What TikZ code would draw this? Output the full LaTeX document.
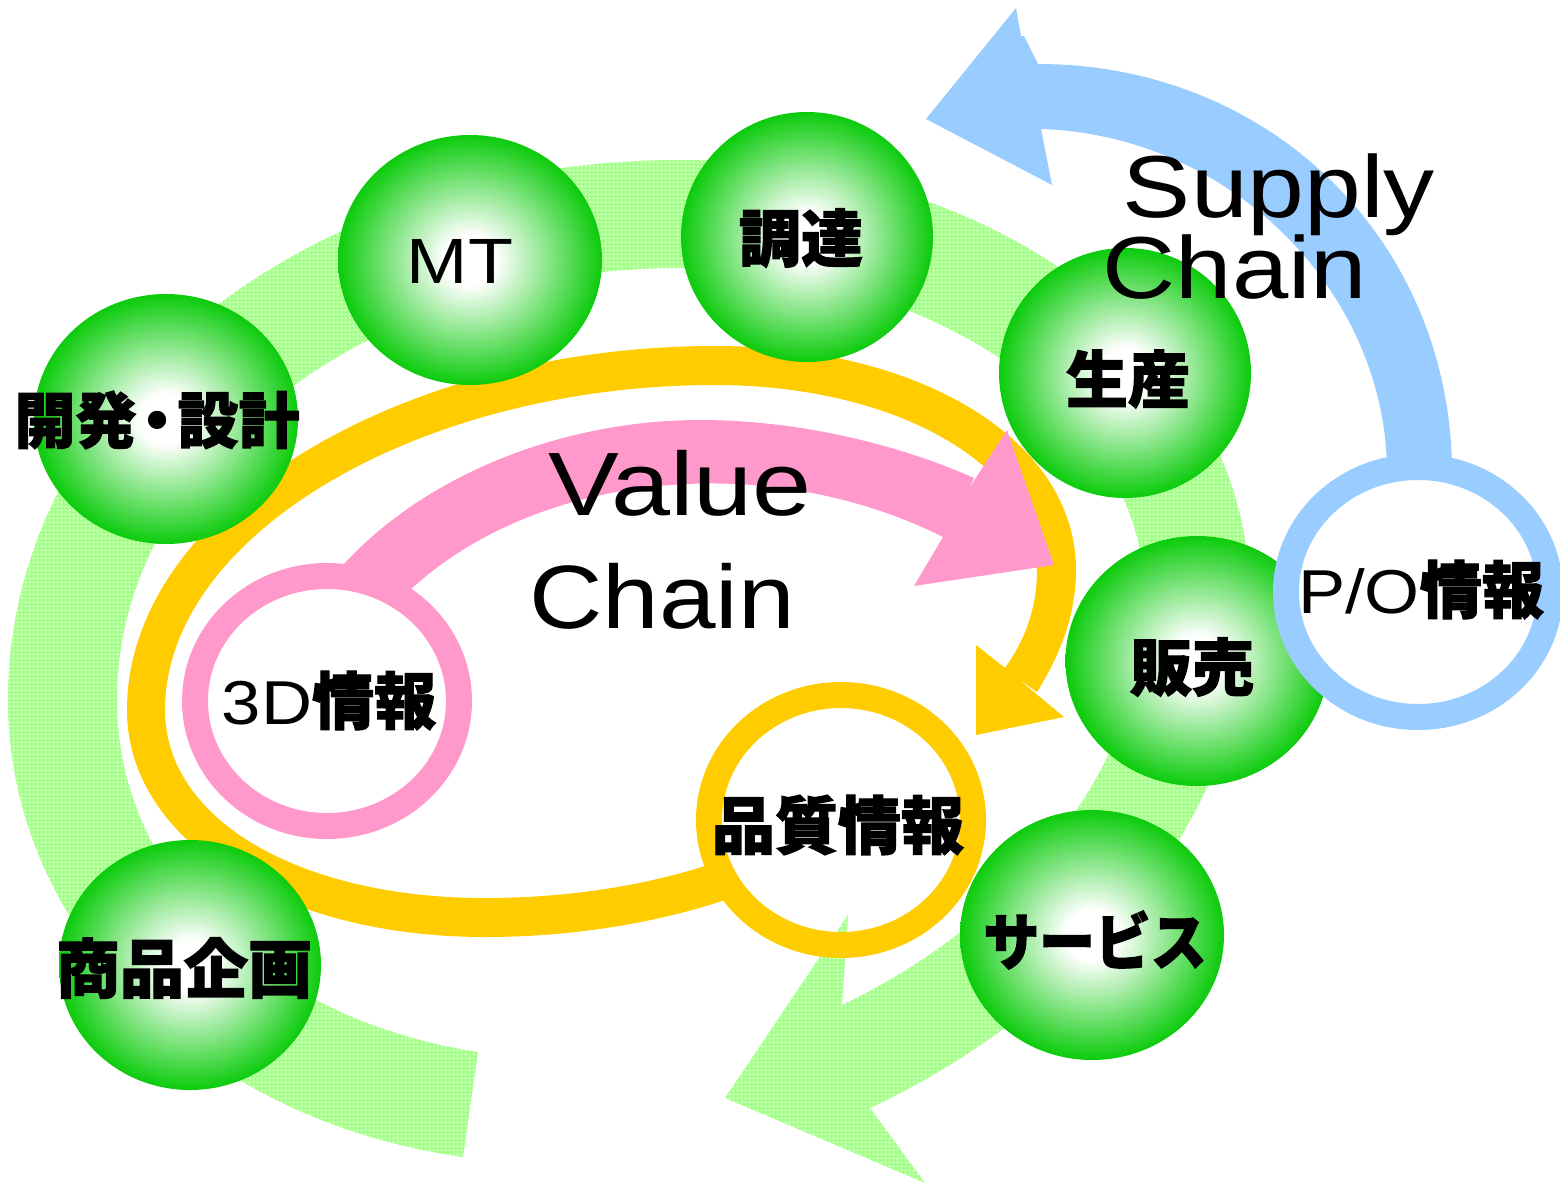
\documentclass[tikz,border=0pt]{standalone}
\usepackage{fontspec}
\setmainfont{Liberation Sans}
\newfontfamily\cjk[BoldFeatures={FakeBold=1.9}]{Noto Sans CJK JP}
\usetikzlibrary{shapes.geometric,patterns}
\definecolor{Gedge}{HTML}{0CCB0C}
\definecolor{bandgreen}{HTML}{A6FF8C}
\definecolor{pinkc}{HTML}{FF99CC}
\definecolor{bluec}{HTML}{99CCFF}
\definecolor{yellowc}{HTML}{FFCC00}
\pgfdeclareradialshading{sph}{\pgfpoint{0bp}{0bp}}{color(0bp)=(white);color(5bp)=(white);color(25bp)=(Gedge);color(50bp)=(Gedge)}
\pgfdeclarepatternformonly{bandchk}{\pgfqpoint{0pt}{0pt}}{\pgfqpoint{4pt}{4pt}}{\pgfqpoint{4pt}{4pt}}{%
  \pgfpathrectangle{\pgfqpoint{1pt}{1pt}}{\pgfqpoint{2pt}{2pt}}\pgfusepath{fill}}
\newcommand{\jp}[1]{{\cjk\bfseries #1}}
\tikzset{
  sphere/.style={ellipse,shading=sph,inner sep=0pt,minimum width=#1,minimum height=250},
  ringshape/.style={ellipse,inner sep=0pt,outer sep=0pt,line width=26,minimum width=264,minimum height=250},
  jplabel/.style={inner sep=0pt,font=\fontsize{#1}{#1}\selectfont},
  latinbig/.style={inner sep=0pt,anchor=base,font=\fontsize{#1}{#1}\selectfont},
  bandfill/.style={fill=bandgreen,postaction={pattern=bandchk,pattern color=white}},
}
\begin{document}
\begin{tikzpicture}[x=1pt,y=-1pt,every node/.append style={text=black}]
\useasboundingbox (0,0) rectangle (1560,1183);
% green band
\path[bandfill] (463,1157) .. controls (200,1120) and (8,930) .. (8,700)
  .. controls (8,400) and (300,160) .. (680,160)
  .. controls (1000,160) and (1250,350) .. (1250,600)
  .. controls (1250,800) and (1100,1000) .. (870,1108)
  -- (925,1183) -- (725,1098) -- (848,915) -- (842,1005)
  .. controls (1000,930) and (1145,780) .. (1145,600)
  .. controls (1145,410) and (930,268) .. (680,268)
  .. controls (370,268) and (117,460) .. (117,700)
  .. controls (117,880) and (270,1020) .. (478,1052) -- cycle;
% yellow band
\fill[yellowc] (725,900) .. controls (650,925) and (565,937) .. (485,937)
  .. controls (280,937) and (127,840) .. (127,710)
  .. controls (127,510) and (400,346) .. (715,346)
  .. controls (920,346) and (1076,440) .. (1076,570)
  .. controls (1076,615) and (1060,655) .. (1037,692)
  -- (1017,678) -- (1064,717) -- (976,735) -- (976,645) -- (1005,668)
  .. controls (1027,637) and (1037,605) .. (1037,570)
  .. controls (1037,465) and (895,385) .. (715,385)
  .. controls (420,385) and (165,535) .. (165,710)
  .. controls (165,820) and (300,898) .. (485,898)
  .. controls (560,898) and (635,888) .. (705,866) -- cycle;
% blue arrow
\fill[bluec] (1452,470) .. controls (1450,240) and (1270,64) .. (1038,64)
  -- (1024,36) -- (1021,36) -- (1016,8) -- (926,119) -- (1052,185) -- (1041,129)
  .. controls (1230,135) and (1385,290) .. (1387,470) -- cycle;
% spheres
\node[sphere=264] (sKaihatsu) at (166,419) {};
\node[sphere=264] (sMT) at (470,260) {};
\node[sphere=252] (sChotatsu) at (807,237) {};
\node[sphere=252] (sSeisan) at (1125,373) {};
\node[sphere=263] (sHanbai) at (1197,661) {};
\node[sphere=264] (sService) at (1092,935) {};
\node[sphere=262] (sShohin) at (190,965) {};
% rings
\node[ringshape,draw=bluec,fill=white] (rPO) at (1418,592) {};
\node[ringshape,draw=yellowc] (rQ) at (841,820) {};
\node[ringshape,draw=pinkc] (r3D) at (327,701) {};
% pink arrow
\fill[pinkc] (343,565) .. controls (430,470) and (570,420) .. (700,420)
  .. controls (800,420) and (900,445) .. (974,478)
  -- (968,490) -- (1007,430) -- (1054,565) -- (914,586) -- (943,537)
  .. controls (770,450) and (540,470) .. (410,590) -- cycle;
% labels
\node[jplabel=61] (tKaihatsu) at (157,420) {\jp{開発\hspace{-10pt}・\hspace{-10pt}設計}};
\node[latinbig=64,xscale=1.15] (tMT) at (460,283) {MT};
\node[jplabel=62] (tChotatsu) at (801,238) {\jp{調達}};
\node[jplabel=62] (tSeisan) at (1128,379) {\jp{生産}};
\node[jplabel=62] (tHanbai) at (1192,667) {\jp{販売}};
\node[jplabel=62,xscale=0.9] (tService) at (1095,940) {\jp{サービス}};
\node[jplabel=64] (tShohin) at (184,968) {\jp{商品企画}};
\node[jplabel=63] (tQ) at (838,825) {\jp{品質情報}};
\node[inner sep=0pt,anchor=base,font=\fontsize{62}{62}\selectfont] (t3D) at (329,724) {\scalebox{1.14}[1]{3D}\jp{情報}};
\node[inner sep=0pt,anchor=base,font=\fontsize{62}{62}\selectfont] (tPO) at (1421,613) {\scalebox{1.14}[1]{P/O}\jp{情報}};
\node[latinbig=90,xscale=1.18] (tValue) at (680,515) {Value};
\node[latinbig=90,xscale=1.13] (tChainV) at (662,628) {Chain};
\node[latinbig=88,xscale=1.16] (tSupply) at (1279,217) {Supply};
\node[latinbig=88,xscale=1.15] (tChainS) at (1235,298) {Chain};
\end{tikzpicture}
\end{document}
